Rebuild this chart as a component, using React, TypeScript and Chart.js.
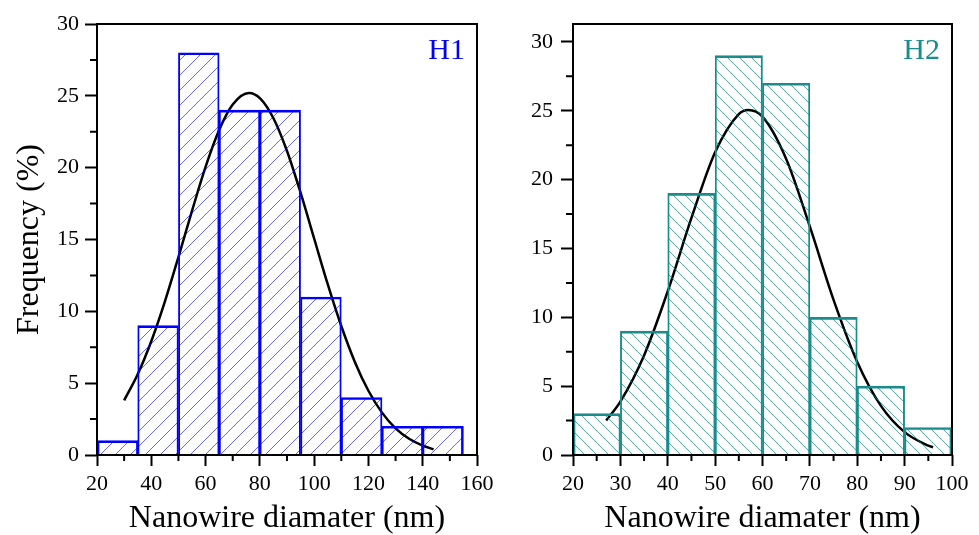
import React, { useEffect, useRef } from "react";
import { Chart, registerables } from "chart.js";

Chart.register(...registerables);

// ---------- data ----------
const h1BinCenters = [27.5, 42.5, 57.5, 72.5, 87.5, 102.5, 117.5, 132.5, 147.5];
const h1Freq = [1, 9, 28, 24, 24, 11, 4, 2, 2];
const h1FitX = [30, 35, 40, 45, 50, 55, 60, 65, 70, 76, 80, 85, 90, 95, 100, 105, 110, 115, 120, 125, 130, 135, 140, 144];
const h1FitY = [3.8, 5.62, 7.92, 10.68, 13.78, 16.99, 20.05, 22.62, 24.4, 25.2, 24.84, 23.44, 21.16, 18.26, 15.07, 11.89, 8.98, 6.48, 4.47, 2.95, 1.86, 1.13, 0.65, 0.4];
const h1MinorX = [30, 50, 70, 90, 110, 130, 150];

const h2BinCenters = [25, 35, 45, 55, 65, 75, 85, 95];
const h2Freq = [3, 9, 19, 29, 27, 10, 5, 2];
const h2FitX = [27, 30, 35, 40, 45, 50, 55, 57, 60, 65, 70, 75, 80, 85, 90, 95, 96];
const h2FitY = [2.51, 3.88, 7.23, 11.89, 17.22, 21.99, 24.76, 25.06, 24.57, 21.5, 16.58, 11.27, 6.76, 3.57, 1.66, 0.68, 0.56];
const h2MinorX = [25, 35, 45, 55, 65, 75, 85, 95];

const yMinor = [2.5, 7.5, 12.5, 17.5, 22.5, 27.5];

const FONT = "'Liberation Serif', 'Times New Roman', serif";

function makeHatch(target: HTMLCanvasElement, color: string, size: number, forward: boolean) {
  const c = document.createElement("canvas");
  c.width = size;
  c.height = size;
  const g = c.getContext("2d")!;
  g.strokeStyle = color;
  g.lineWidth = 1;
  g.beginPath();
  for (const k of [-1, 0, 1]) {
    if (forward) {
      g.moveTo(k * size, size);
      g.lineTo(k * size + size, 0);
    } else {
      g.moveTo(k * size, 0);
      g.lineTo(k * size + size, size);
    }
  }
  g.stroke();
  return target.getContext("2d")!.createPattern(c, "repeat");
}

type PanelProps = {
  left: number;
  width: number;
  centers: number[];
  freq: number[];
  fitX: number[];
  fitY: number[];
  minorX: number[];
  xMin: number;
  xMax: number;
  xStep: number;
  yMax: number;
  color: string;
  hatchColor: string;
  hatchSize: number;
  forward: boolean;
  label: string;
  yTitle: string | null;
  yAxisWidth: number;
  padRight: number;
  yLabelPad: number;
};

function Panel(p: PanelProps) {
  const ref = useRef<HTMLCanvasElement>(null);
  useEffect(() => {
    const canvas = ref.current!;
    const pattern = makeHatch(canvas, p.hatchColor, p.hatchSize, p.forward);
    const n = p.centers.length;
    const overlay = {
      id: "overlay",
      afterDatasetsDraw(chart: any) {
        const { ctx, chartArea: a, scales } = chart;
        ctx.save();
        ctx.strokeStyle = "#000";
        ctx.lineWidth = 2;
        ctx.strokeRect(a.left, a.top, a.right - a.left, a.bottom - a.top);
        ctx.beginPath();
        for (const v of p.minorX) {
          const px = scales.x.getPixelForValue(v);
          ctx.moveTo(px, a.bottom);
          ctx.lineTo(px, a.bottom + 6);
        }
        for (const v of yMinor) {
          const py = scales.y.getPixelForValue(v);
          ctx.moveTo(a.left, py);
          ctx.lineTo(a.left - 7, py);
        }
        ctx.stroke();
        ctx.font = `30px ${FONT}`;
        ctx.fillStyle = p.color;
        ctx.textAlign = "right";
        ctx.textBaseline = "alphabetic";
        ctx.fillText(p.label, a.right - 12, a.top + 35);
        ctx.restore();
      },
    };
    const chart = new Chart(canvas, {
      type: "bar",
      data: {
        datasets: [
          {
            type: "bar",
            data: p.centers.map((x, i) => ({ x, y: p.freq[i] })),
            backgroundColor: pattern as any,
            borderColor: p.color,
            borderWidth: ((ctx: any) => ({
              top: 2,
              bottom: 0,
              left: ctx.dataIndex === 0 ? 2 : 1.25,
              right: ctx.dataIndex === n - 1 ? 2 : 1.25,
            })) as any,
            barPercentage: 1,
            categoryPercentage: 1,
          },
          {
            type: "line",
            data: p.fitX.map((x, i) => ({ x, y: p.fitY[i] })),
            borderColor: "#000",
            borderWidth: 2.5,
            pointRadius: 0,
            fill: false,
            cubicInterpolationMode: "monotone",
          } as any,
        ],
      },
      options: {
        animation: false,
        responsive: false,
        devicePixelRatio: 1,
        layout: { padding: { left: 0, top: 24, right: p.padRight, bottom: 0 } },
        plugins: { legend: { display: false }, tooltip: { enabled: false } },
        scales: {
          x: {
            type: "linear",
            min: p.xMin,
            max: p.xMax,
            offset: false,
            ticks: {
              stepSize: p.xStep,
              font: { family: FONT, size: 22 },
              color: "#000",
              padding: 5,
              maxRotation: 0,
              autoSkip: false,
            },
            grid: {
              display: true,
              drawOnChartArea: false,
              drawTicks: true,
              tickLength: 11,
              tickWidth: 2,
              tickColor: "#000",
              offset: false,
            },
            border: { display: false },
            title: {
              display: true,
              text: "Nanowire diamater (nm)",
              color: "#000",
              font: { family: FONT, size: 32, lineHeight: 1 },
              padding: { top: 0, bottom: 0 },
            },
            afterFit: (s: any) => {
              s.height = 80;
            },
          },
          y: {
            type: "linear",
            min: 0,
            max: p.yMax,
            ticks: {
              stepSize: 5,
              includeBounds: false,
              font: { family: FONT, size: 22 },
              color: "#000",
              padding: p.yLabelPad,
            },
            grid: {
              display: true,
              drawOnChartArea: false,
              drawTicks: true,
              tickLength: 12,
              tickWidth: 2,
              tickColor: "#000",
            },
            border: { display: false },
            title: {
              display: !!p.yTitle,
              text: p.yTitle || "",
              color: "#000",
              font: { family: FONT, size: 32, lineHeight: 1.2 },
              padding: { top: 10, bottom: 0 },
            },
            afterFit: (s: any) => {
              s.width = p.yAxisWidth;
            },
          },
        },
      } as any,
      plugins: [overlay],
    });
    return () => chart.destroy();
  }, []);
  return (
    <canvas
      ref={ref}
      width={p.width}
      height={535}
      style={{ position: "absolute", left: p.left, top: 0, width: p.width, height: 535 }}
    />
  );
}

export default function App() {
  return (
    <div style={{ position: "absolute", left: 0, top: 0, width: 979, height: 535, background: "#fff" }}>
      <Panel
        left={0}
        width={520}
        centers={h1BinCenters}
        freq={h1Freq}
        fitX={h1FitX}
        fitY={h1FitY}
        minorX={h1MinorX}
        xMin={20}
        xMax={160}
        xStep={20}
        yMax={30}
        color="#0000ff"
        hatchColor="rgba(0,0,255,0.6)"
        hatchSize={15}
        forward={true}
        label="H1"
        yTitle="Frequency (%)"
        yAxisWidth={97}
        padRight={43}
        yLabelPad={6}
      />
      <Panel
        left={490}
        width={489}
        centers={h2BinCenters}
        freq={h2Freq}
        fitX={h2FitX}
        fitY={h2FitY}
        minorX={h2MinorX}
        xMin={20}
        xMax={100}
        xStep={10}
        yMax={31.3}
        color="#1a8c8c"
        hatchColor="rgba(0,128,128,0.65)"
        hatchSize={12}
        forward={false}
        label="H2"
        yTitle={null}
        yAxisWidth={83}
        padRight={27}
        yLabelPad={8}
      />
    </div>
  );
}
